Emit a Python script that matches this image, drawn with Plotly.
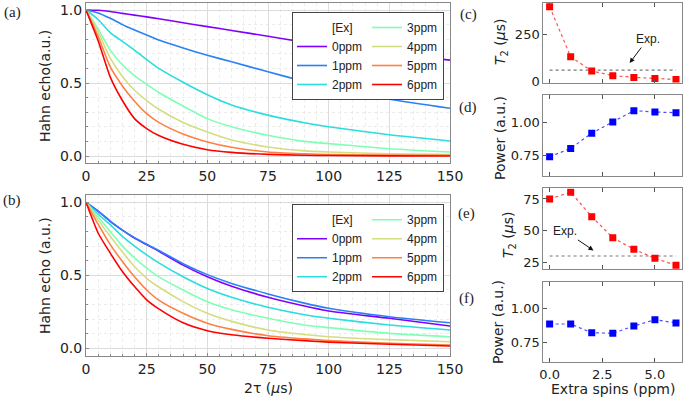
import plotly.graph_objects as go

# ---------------- data ----------------
T = [0, 5, 10, 15, 20, 25, 30, 40, 50, 60, 75, 90, 100, 125, 150]
labels = ["0ppm", "1ppm", "2ppm", "3ppm", "4ppm", "5ppm", "6ppm"]
colors = ["#8000ff", "#2a80f6", "#2addde", "#80ffb4", "#d4dd80", "#ff8042", "#ff0000"]

echo_a_0 = [1.0, 0.998, 0.99, 0.977, 0.965, 0.953, 0.94, 0.913, 0.886, 0.86, 0.82, 0.78, 0.757, 0.70, 0.657]
echo_a_1 = [1.0, 0.98, 0.943, 0.9, 0.863, 0.828, 0.794, 0.74, 0.69, 0.645, 0.577, 0.51, 0.47, 0.389, 0.327]
echo_a_2 = [1.0, 0.935, 0.845, 0.785, 0.725, 0.66, 0.6, 0.505, 0.42, 0.35, 0.28, 0.228, 0.2, 0.146, 0.103]
echo_a_3 = [1.0, 0.87, 0.725, 0.625, 0.55, 0.49, 0.435, 0.342, 0.256, 0.2, 0.142, 0.1, 0.085, 0.05, 0.027]
echo_a_4 = [1.0, 0.85, 0.67, 0.545, 0.45, 0.38, 0.32, 0.23, 0.165, 0.11, 0.062, 0.035, 0.027, 0.015, 0.01]
echo_a_5 = [1.0, 0.82, 0.61, 0.48, 0.375, 0.29, 0.23, 0.15, 0.096, 0.06, 0.027, 0.015, 0.01, 0.007, 0.005]
echo_a_6 = [1.0, 0.79, 0.54, 0.38, 0.256, 0.188, 0.14, 0.08, 0.043, 0.025, 0.011, 0.005, 0.003, 0.001, 0.0]

echo_b_0 = [1.0, 0.94, 0.87, 0.81, 0.755, 0.71, 0.665, 0.57, 0.49, 0.425, 0.35, 0.29, 0.256, 0.206, 0.153]
echo_b_1 = [1.0, 0.94, 0.87, 0.81, 0.758, 0.713, 0.67, 0.58, 0.505, 0.445, 0.373, 0.31, 0.275, 0.217, 0.176]
echo_b_2 = [1.0, 0.92, 0.847, 0.767, 0.70, 0.64, 0.585, 0.49, 0.41, 0.35, 0.281, 0.23, 0.206, 0.16, 0.126]
echo_b_3 = [1.0, 0.9, 0.8, 0.7, 0.62, 0.55, 0.49, 0.40, 0.32, 0.265, 0.206, 0.16, 0.142, 0.103, 0.08]
echo_b_4 = [1.0, 0.88, 0.767, 0.66, 0.56, 0.48, 0.42, 0.32, 0.24, 0.185, 0.126, 0.095, 0.08, 0.06, 0.046]
echo_b_5 = [1.0, 0.85, 0.71, 0.595, 0.49, 0.40, 0.33, 0.24, 0.172, 0.13, 0.087, 0.065, 0.053, 0.035, 0.023]
echo_b_6 = [1.0, 0.79, 0.652, 0.526, 0.423, 0.332, 0.27, 0.175, 0.121, 0.093, 0.069, 0.053, 0.043, 0.028, 0.016]

spins = [0, 1, 2, 3, 4, 5, 6]
t2_c = [398, 133, 58, 33, 24, 18, 13]
exp_c = [62, 62]
power_d = [0.743, 0.804, 0.917, 1.0, 1.084, 1.074, 1.069]
t2_e = [75, 80.3, 61, 44.4, 35.3, 28.2, 22.6]
exp_e = [30, 30]
power_f = [0.885, 0.885, 0.82, 0.816, 0.87, 0.917, 0.893]
exp_x = [0, 6]

echo_a = [echo_a_0, echo_a_1, echo_a_2, echo_a_3, echo_a_4, echo_a_5, echo_a_6]
echo_b = [echo_b_0, echo_b_1, echo_b_2, echo_b_3, echo_b_4, echo_b_5, echo_b_6]

W, H = 685, 400
def px(x): return x / W
def py(y): return 1 - y / H

SANS = "DejaVu Sans"
TXT = "#222222"
FRAME = "#888888"

fig = go.Figure()

# ---------------- left panels ----------------
for panel, data, xa, ya, leg in [("a", echo_a, "x", "y", "legend"),
                                 ("b", echo_b, "x2", "y2", "legend2")]:
    fig.add_trace(go.Scatter(x=[None], y=[None], mode="lines", name="[Ex]",
                             line=dict(color="rgba(0,0,0,0)", width=1.5),
                             legendgroup=panel + "1", legend=leg,
                             xaxis=xa, yaxis=ya, hoverinfo="skip"))
    for i, (lab, col, ys) in enumerate(zip(labels, colors, data)):
        fig.add_trace(go.Scatter(x=T, y=ys, mode="lines", name=lab,
                                 line=dict(color=col, width=1.6, shape="spline", smoothing=0.6),
                                 legendgroup=panel + ("1" if i < 3 else "2"), legend=leg,
                                 xaxis=xa, yaxis=ya))

# ---------------- right panels ----------------
def marker_trace(y, col, lcol, xa, ya):
    return go.Scatter(x=spins, y=y, mode="lines+markers", showlegend=False,
                      line=dict(color=lcol, width=1.2, dash="dot"),
                      marker=dict(symbol="square", size=7, color=col),
                      xaxis=xa, yaxis=ya)

def exp_trace(y, xa, ya):
    return go.Scatter(x=exp_x, y=y, mode="lines", showlegend=False,
                      line=dict(color="#777777", width=1.2, dash="dot"),
                      xaxis=xa, yaxis=ya)

fig.add_trace(exp_trace(exp_c, "x3", "y3"))
fig.add_trace(marker_trace(t2_c, "#ff0000", "#ff5050", "x3", "y3"))
fig.add_trace(marker_trace(power_d, "#0000ff", "#4d4dff", "x4", "y4"))
fig.add_trace(exp_trace(exp_e, "x5", "y5"))
fig.add_trace(marker_trace(t2_e, "#ff0000", "#ff5050", "x5", "y5"))
fig.add_trace(marker_trace(power_f, "#0000ff", "#4d4dff", "x6", "y6"))

# ---------------- axes ----------------
def left_x(anchor):
    return dict(domain=[px(86), px(450)], range=[0, 150], anchor=anchor, automargin=False,
                tickmode="array", tickvals=[0, 25, 50, 75, 100, 125, 150],
                showline=True, linecolor=FRAME, linewidth=1, mirror=True,
                ticks="inside", ticklen=3, tickcolor=FRAME,
                showgrid=True, gridcolor="#dcdcdc", gridwidth=1,
                minor=dict(dtick=5, showgrid=True, gridcolor="#ebebeb", griddash="dot",
                           ticks="inside", ticklen=2, tickcolor=FRAME),
                zeroline=False, tickfont=dict(family=SANS, size=14, color=TXT))

def left_y(anchor, dom):
    return dict(domain=dom, range=[-0.05, 1.05], anchor=anchor, automargin=False,
                tickmode="array", tickvals=[0, 0.5, 1.0], ticktext=["0.0", "0.5", "1.0"],
                showline=True, linecolor=FRAME, linewidth=1, mirror=True,
                ticks="inside", ticklen=3, tickcolor=FRAME,
                showgrid=True, gridcolor="#dcdcdc", gridwidth=1,
                minor=dict(dtick=0.1, showgrid=True, gridcolor="#ebebeb", griddash="dot",
                           ticks="inside", ticklen=2, tickcolor=FRAME),
                zeroline=False, tickfont=dict(family=SANS, size=14, color=TXT))

def right_x(anchor, labels_on):
    return dict(domain=[px(543.3), px(682.3)], range=[-0.3, 6.3], anchor=anchor, automargin=False,
                tickmode="array", tickvals=[0, 2.5, 5.0], ticktext=["0.0", "2.5", "5.0"],
                showticklabels=labels_on,
                showline=True, linecolor=FRAME, linewidth=1, mirror="ticks",
                ticks="inside", ticklen=4, tickcolor="#555555",
                showgrid=False, zeroline=False,
                tickfont=dict(family=SANS, size=13, color=TXT))

def right_y(anchor, dom, rng, vals, texts):
    return dict(domain=dom, range=rng, anchor=anchor, automargin=False,
                tickmode="array", tickvals=vals, ticktext=texts,
                showline=True, linecolor=FRAME, linewidth=1, mirror=True,
                ticks="inside", ticklen=4, tickcolor="#555555",
                showgrid=False, zeroline=False,
                tickfont=dict(family=SANS, size=13, color=TXT))

fig.update_layout(
    xaxis=left_x("y"),
    yaxis=left_y("x", [py(163.3), py(2.7)]),
    xaxis2=left_x("y2"),
    yaxis2=left_y("x2", [py(355.7), py(195)]),
    xaxis3=right_x("y3", False),
    yaxis3=right_y("x3", [py(82.5), py(2.7)], [-3, 419], [0, 250], ["0", "250"]),
    xaxis4=right_x("y4", False),
    yaxis4=right_y("x4", [py(176), py(95)], [0.6, 1.2], [0.75, 1.0], ["0.75", "1.00"]),
    xaxis5=right_x("y5", False),
    yaxis5=right_y("x5", [py(269.3), py(188.3)], [19.5, 83.4], [25, 50, 75], ["25", "50", "75"]),
    xaxis6=right_x("y6", True),
    yaxis6=right_y("x6", [py(362.3), py(281.7)], [0.6, 1.2], [0.75, 1.0], ["0.75", "1.00"]),
)

legend_common = dict(orientation="h", traceorder="grouped",
                     bgcolor="white", bordercolor="#444444", borderwidth=1,
                     font=dict(family="Liberation Sans", size=12, color=TXT),
                     xanchor="left", yanchor="top", tracegroupgap=0, itemwidth=30)
fig.update_layout(
    legend=dict(x=px(292), y=py(12), **legend_common),
    legend2=dict(x=px(292), y=py(204.3), **legend_common),
)

# ---------------- text ----------------
ann = []
def label(txt, x, y, size=15, family="Liberation Serif", angle=0):
    ann.append(dict(text=txt, x=px(x), y=py(y), xref="paper", yref="paper",
                    showarrow=False, textangle=angle,
                    font=dict(family=family, size=size, color=TXT),
                    xanchor="center", yanchor="middle"))

for t, x, y in [("(a)", 12, 13), ("(b)", 12, 201), ("(c)", 468, 15),
                ("(d)", 468, 107), ("(e)", 466, 213), ("(f)", 466, 298)]:
    label(t, x, y)

label("Hahn echo(a.u.)", 45, 86, size=14, family=SANS, angle=-90)
label("Hahn echo (a.u.)", 45, 276, size=14, family=SANS, angle=-90)
label("2τ (<i>μ</i>s)", 268, 388, size=14, family=SANS)
label("<i>T</i><sub>2</sub> (<i>μ</i>s)", 501, 42, size=14, family=SANS, angle=-90)
label("Power (a.u.)", 500, 138, size=14, family=SANS, angle=-90)
label("<i>T</i><sub>2</sub> (<i>μ</i>s)", 509, 235, size=14, family=SANS, angle=-90)
label("Power (a.u.)", 498, 322, size=14, family=SANS, angle=-90)
label("Extra spins (ppm)", 613, 389, size=14, family=SANS)

ann.append(dict(text="Exp.", x=3.8, y=100, xref="x3", yref="y3",
                ax=18, ay=-24, showarrow=True, arrowhead=2, arrowsize=1, arrowwidth=1,
                arrowcolor="#111111", font=dict(family="Liberation Sans", size=12, color=TXT)))
ann.append(dict(text="Exp.", x=2.08, y=34.4, xref="x5", yref="y5",
                ax=-28, ay=-19, showarrow=True, arrowhead=2, arrowsize=1, arrowwidth=1,
                arrowcolor="#111111", font=dict(family="Liberation Sans", size=12, color=TXT)))

fig.update_layout(annotations=ann, width=W, height=H,
                  margin=dict(l=0, r=0, t=0, b=0),
                  paper_bgcolor="white", plot_bgcolor="white", showlegend=True)

fig.write_html("out.html", config={"displayModeBar": False},
               post_script="document.body.style.margin='0';document.body.style.padding='0';"
                           "document.documentElement.style.margin='0';")
